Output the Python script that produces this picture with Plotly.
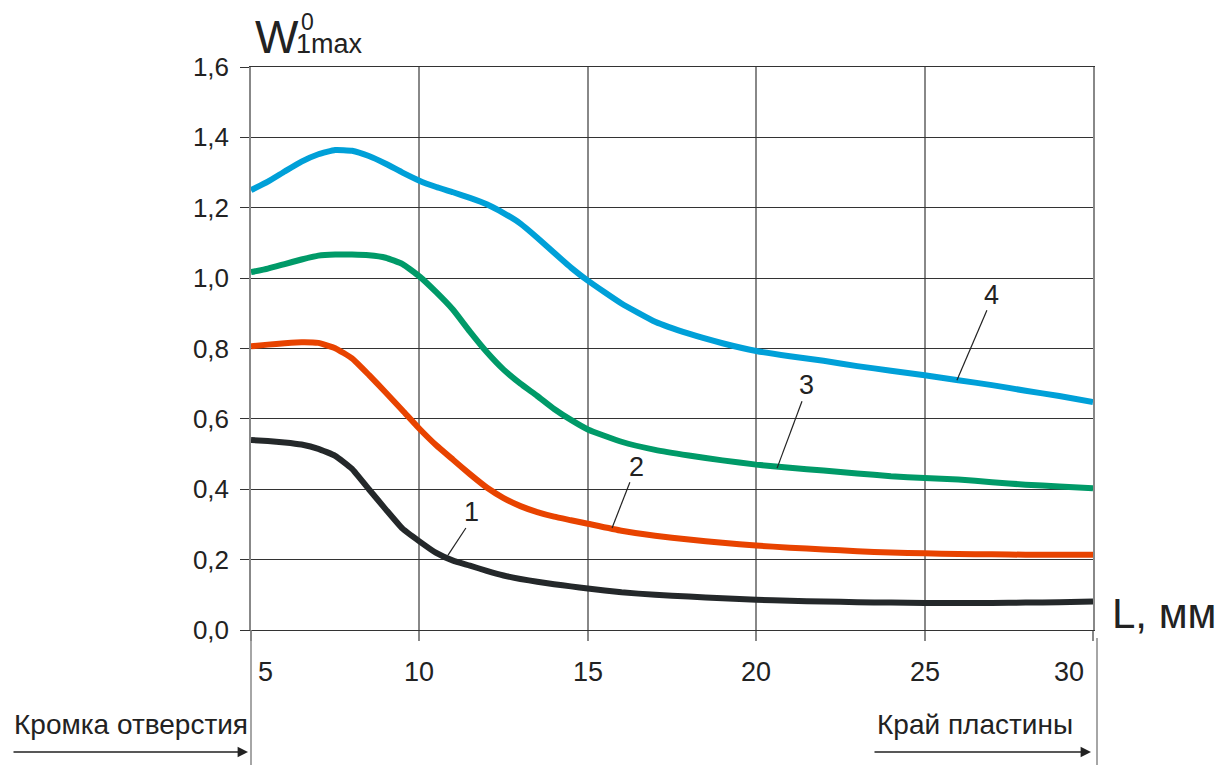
import plotly.graph_objects as go

L = [5, 5.5, 6, 6.5, 7, 7.5, 8, 8.5, 9, 9.5, 10, 10.5, 11, 11.5, 12, 12.5, 13, 13.5,
     14, 14.5, 15, 16, 17, 18, 19, 20, 21, 22, 23, 24, 25, 26, 27, 28, 29, 30]

w1 = [0.540, 0.537, 0.533, 0.527, 0.515, 0.495, 0.458, 0.400, 0.343, 0.288, 0.252, 0.219,
      0.197, 0.183, 0.168, 0.155, 0.145, 0.137, 0.130, 0.124, 0.118, 0.107, 0.100, 0.095,
      0.090, 0.086, 0.083, 0.081, 0.079, 0.078, 0.077, 0.077, 0.077, 0.078, 0.079, 0.081]
w2 = [0.806, 0.811, 0.815, 0.818, 0.816, 0.801, 0.772, 0.725, 0.675, 0.624, 0.572, 0.525,
      0.484, 0.443, 0.405, 0.375, 0.352, 0.335, 0.322, 0.312, 0.302, 0.282, 0.268, 0.257,
      0.248, 0.240, 0.234, 0.229, 0.224, 0.220, 0.218, 0.216, 0.215, 0.214, 0.214, 0.214]
w3 = [1.017, 1.027, 1.040, 1.053, 1.064, 1.067, 1.067, 1.065, 1.058, 1.040, 1.005, 0.960,
      0.910, 0.848, 0.790, 0.740, 0.700, 0.665, 0.628, 0.597, 0.570, 0.535, 0.512, 0.496,
      0.482, 0.470, 0.461, 0.453, 0.445, 0.437, 0.432, 0.428, 0.420, 0.413, 0.408, 0.403]
w4 = [1.250, 1.274, 1.303, 1.331, 1.352, 1.364, 1.362, 1.347, 1.325, 1.300, 1.277, 1.259,
      1.244, 1.228, 1.210, 1.185, 1.155, 1.115, 1.072, 1.030, 0.993, 0.928, 0.876, 0.842,
      0.815, 0.793, 0.778, 0.765, 0.750, 0.737, 0.724, 0.710, 0.696, 0.680, 0.665, 0.648]

series = [("1", w1, "#24282a"), ("2", w2, "#e84300"), ("3", w3, "#009a68"), ("4", w4, "#00a0d8")]

# curve labels: (text, text_x, text_y, line_x0, line_y0, line_x1, line_y1)
curve_labels = [
    ("1", 11.56, 0.335, 11.38, 0.290, 10.85, 0.213),
    ("2", 16.46, 0.463, 16.25, 0.420, 15.72, 0.290),
    ("3", 21.48, 0.696, 21.36, 0.650, 20.62, 0.460),
    ("4", 27.00, 0.952, 26.85, 0.909, 25.96, 0.710),
]

x_ticks = [5, 10, 15, 20, 25, 30]
y_ticks = [0.0, 0.2, 0.4, 0.6, 0.8, 1.0, 1.2, 1.4, 1.6]

FONT = "Liberation Sans, Arial, sans-serif"
TXT = "#222222"

fig = go.Figure()
for name, vals, col in series:
    fig.add_trace(go.Scatter(x=L, y=vals, mode="lines", name=name,
                             line=dict(color=col, width=6, shape="spline", smoothing=0.4),
                             showlegend=False, hoverinfo="skip"))

W, H = 1221, 765
ml, mr, mt, mb = 251, 128, 67, 135
pw, ph = W - ml - mr, H - mt - mb

def px(xp):
    return (xp - ml) / pw

def py(yp):
    return (H - mb - yp) / ph

annotations = []
shapes = []

for t, tx, ty, x0, y0, x1, y1 in curve_labels:
    annotations.append(dict(x=tx, y=ty, xref="x", yref="y", text=t, showarrow=False,
                            font=dict(family=FONT, size=27, color=TXT)))
    shapes.append(dict(type="line", xref="x", yref="y", x0=x0, y0=y0, x1=x1, y1=y1,
                       line=dict(color="#222222", width=1.2)))

for v in x_ticks:
    if v == x_ticks[0]:
        anc, sh = "left", 5
    elif v == x_ticks[-1]:
        anc, sh = "right", -7
    else:
        anc, sh = "center", 0
    annotations.append(dict(x=v, y=py(672), xref="x", yref="paper", text=str(v),
                            showarrow=False, xanchor=anc, yanchor="middle", xshift=sh,
                            font=dict(family=FONT, size=27, color=TXT)))

# axis title W^0_1max
annotations.append(dict(x=px(253), y=py(37), xref="paper", yref="paper", text="W",
                        showarrow=False, xanchor="left", yanchor="middle",
                        font=dict(family=FONT, size=46, color=TXT)))
annotations.append(dict(x=px(294), y=py(44), xref="paper", yref="paper", text="1max",
                        showarrow=False, xanchor="left", yanchor="middle",
                        font=dict(family=FONT, size=27, color=TXT)))
annotations.append(dict(x=px(299), y=py(22), xref="paper", yref="paper", text="0",
                        showarrow=False, xanchor="left", yanchor="middle",
                        font=dict(family=FONT, size=23, color=TXT)))
annotations.append(dict(x=px(1110), y=py(613), xref="paper", yref="paper", text="L, мм",
                        showarrow=False, xanchor="left", yanchor="middle",
                        font=dict(family=FONT, size=42, color=TXT)))

annotations.append(dict(x=px(250), y=py(724), xref="paper", yref="paper",
                        text="Кромка отверстия", showarrow=False, xanchor="right",
                        yanchor="middle", font=dict(family=FONT, size=28, color=TXT)))
annotations.append(dict(x=px(1075), y=py(724), xref="paper", yref="paper",
                        text="Край пластины", showarrow=False, xanchor="right",
                        yanchor="middle", font=dict(family=FONT, size=28, color=TXT)))

for x_from, x_to in [(12, 248), (873, 1091)]:
    annotations.append(dict(x=px(x_to), y=py(752), xref="paper", yref="paper",
                            ax=-(x_to - x_from), ay=0, axref="pixel", ayref="pixel",
                            text="", showarrow=True, arrowhead=2, arrowsize=1.6,
                            arrowwidth=1.3, arrowcolor="#222222"))

shapes.append(dict(type="line", xref="paper", yref="paper", x0=0, x1=0, y0=0, y1=py(765),
                   line=dict(color="#888888", width=1.5)))
shapes.append(dict(type="line", xref="paper", yref="paper", x0=px(1097), x1=px(1097),
                   y0=py(638), y1=py(765), line=dict(color="#888888", width=1.5)))

fig.update_layout(
    width=W, height=H,
    margin=dict(l=ml, r=mr, t=mt, b=mb),
    paper_bgcolor="white", plot_bgcolor="white",
    separators=", ",
    annotations=annotations, shapes=shapes,
    xaxis=dict(range=[5, 30], tickvals=x_ticks, showticklabels=False,
               showgrid=True, gridcolor="#888888", gridwidth=1.5,
               ticks="outside", ticklen=10, tickcolor="#888888", tickwidth=1.5,
               showline=True, linecolor="#333333", linewidth=1.3, mirror=True,
               zeroline=False),
    yaxis=dict(range=[0, 1.6], tickvals=y_ticks, tickformat=".1f",
               showgrid=True, gridcolor="#333333", gridwidth=1.2,
               ticks="outside", ticklen=9, tickcolor="#333333", tickwidth=1.2,
               ticklabelstandoff=6,
               tickfont=dict(family=FONT, size=26, color=TXT),
               showline=True, linecolor="#888888", linewidth=1.5, mirror=True,
               zeroline=False),
)

fig.write_html("out.html")
